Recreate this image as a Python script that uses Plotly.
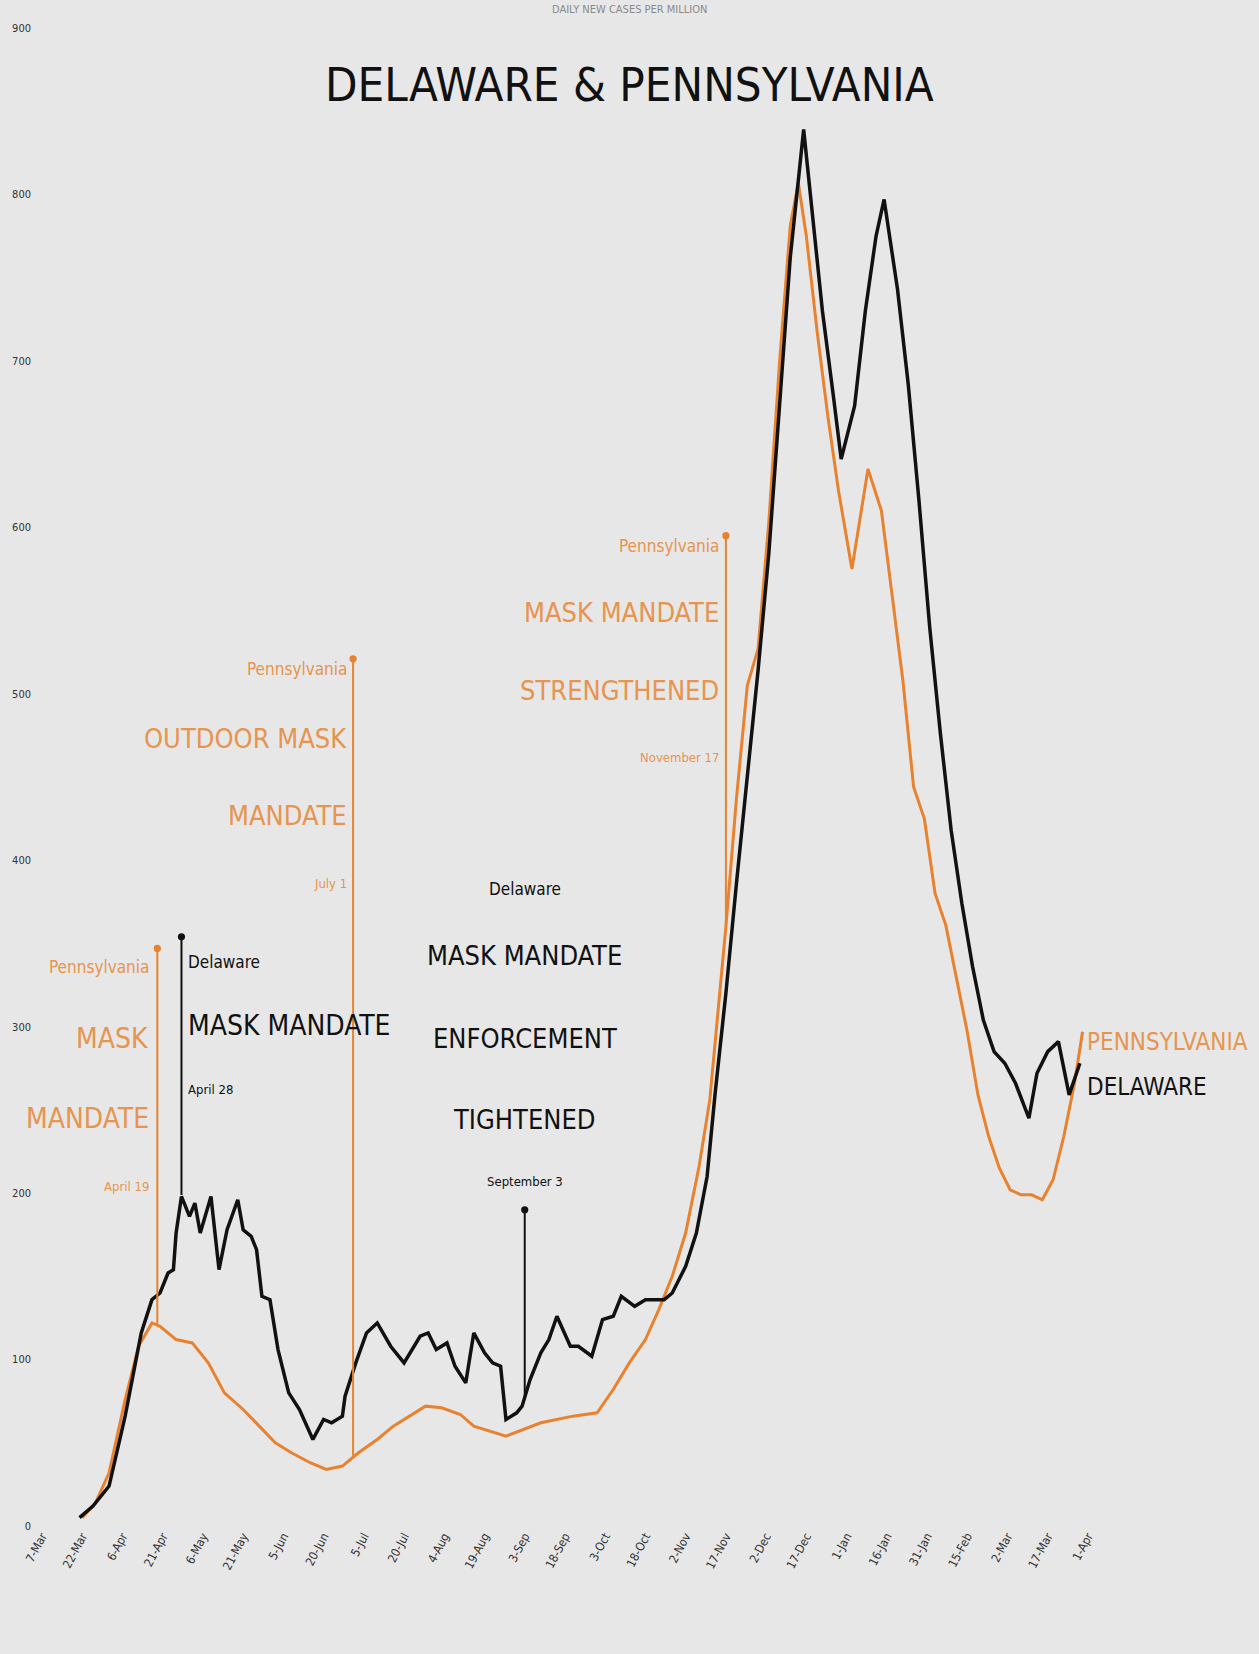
import numpy as np
import pandas as pd
import plotly.graph_objects as go

# daily new cases per million, 7-day average
de_dates = [
    "2020-03-21", "2020-03-26", "2020-04-01", "2020-04-07", "2020-04-13", "2020-04-17",
    "2020-04-20", "2020-04-23", "2020-04-25", "2020-04-26", "2020-04-28", "2020-05-01",
    "2020-05-03", "2020-05-05", "2020-05-09", "2020-05-12", "2020-05-15", "2020-05-19",
    "2020-05-21", "2020-05-24", "2020-05-26", "2020-05-28", "2020-05-31", "2020-06-03",
    "2020-06-07", "2020-06-11", "2020-06-16", "2020-06-20", "2020-06-23", "2020-06-27",
    "2020-06-28", "2020-07-02", "2020-07-06", "2020-07-10", "2020-07-15", "2020-07-20",
    "2020-07-26", "2020-07-29", "2020-08-01", "2020-08-05", "2020-08-08", "2020-08-12",
    "2020-08-15", "2020-08-19", "2020-08-22", "2020-08-25", "2020-08-27", "2020-08-31",
    "2020-09-02", "2020-09-05", "2020-09-09", "2020-09-12", "2020-09-15", "2020-09-20",
    "2020-09-23", "2020-09-28", "2020-10-02", "2020-10-06", "2020-10-09", "2020-10-14",
    "2020-10-18", "2020-10-25", "2020-10-28", "2020-11-02", "2020-11-06", "2020-11-10",
    "2020-11-13", "2020-11-17", "2020-11-21", "2020-11-25", "2020-11-29", "2020-12-03",
    "2020-12-07", "2020-12-11", "2020-12-16", "2020-12-19", "2020-12-23", "2020-12-27",
    "2020-12-30", "2021-01-04", "2021-01-08", "2021-01-12", "2021-01-15", "2021-01-20",
    "2021-01-24", "2021-01-28", "2021-02-01", "2021-02-05", "2021-02-09", "2021-02-13",
    "2021-02-17", "2021-02-21", "2021-02-25", "2021-03-01", "2021-03-05", "2021-03-10",
    "2021-03-13", "2021-03-17", "2021-03-21", "2021-03-25", "2021-03-29",
]
de_values = [
    5, 12, 24, 66, 116, 136,
    140, 152, 154, 176, 198, 186,
    194, 176, 198, 154, 178, 196,
    178, 174, 166, 138, 136, 106,
    80, 70, 52, 64, 62, 66,
    78, 98, 116, 122, 108, 98,
    114, 116, 106, 110, 96, 86,
    116, 104, 98, 96, 64, 68,
    72, 88, 104, 112, 126, 108,
    108, 102, 124, 126, 138, 132,
    136, 136, 140, 156, 176, 210,
    260, 320, 387, 450, 514, 584,
    673, 762, 839, 794, 730, 680,
    641, 673, 730, 775, 797, 743,
    686, 616, 540, 476, 418, 374,
    336, 304, 285, 278, 266, 245,
    272, 285, 291, 259, 278,
]

pa_dates = [
    "2020-03-22", "2020-03-27", "2020-04-01", "2020-04-07", "2020-04-12", "2020-04-17",
    "2020-04-20", "2020-04-26", "2020-05-02", "2020-05-08", "2020-05-14", "2020-05-21",
    "2020-05-27", "2020-06-02", "2020-06-08", "2020-06-15", "2020-06-21", "2020-06-27",
    "2020-07-03", "2020-07-10", "2020-07-16", "2020-07-22", "2020-07-28", "2020-08-03",
    "2020-08-10", "2020-08-15", "2020-08-27", "2020-09-09", "2020-09-21", "2020-09-30",
    "2020-10-06", "2020-10-12", "2020-10-18", "2020-10-23", "2020-10-28", "2020-11-02",
    "2020-11-07", "2020-11-11", "2020-11-17", "2020-11-21", "2020-11-25", "2020-11-29",
    "2020-12-03", "2020-12-07", "2020-12-11", "2020-12-14", "2020-12-17", "2020-12-21",
    "2020-12-25", "2020-12-29", "2021-01-03", "2021-01-09", "2021-01-14", "2021-01-18",
    "2021-01-22", "2021-01-26", "2021-01-30", "2021-02-03", "2021-02-07", "2021-02-11",
    "2021-02-15", "2021-02-19", "2021-02-23", "2021-02-27", "2021-03-03", "2021-03-07",
    "2021-03-11", "2021-03-15", "2021-03-19", "2021-03-23", "2021-03-27", "2021-03-30",
]
pa_values = [
    5, 14, 32, 76, 108, 122,
    120, 112, 110, 98, 80, 70,
    60, 50, 44, 38, 34, 36,
    44, 52, 60, 66, 72, 71,
    67, 60, 54, 62, 66, 68,
    82, 98, 112, 130, 150, 176,
    216, 256, 360, 438, 505, 527,
    603, 699, 781, 807, 775, 718,
    667, 622, 575, 635, 610, 559,
    508, 444, 425, 380, 361, 329,
    297, 259, 234, 215, 202, 199,
    199, 196, 208, 234, 266, 297,
]

y_ticks = [0, 100, 200, 300, 400, 500, 600, 700, 800, 900]
x_ticks = pd.date_range("2020-03-07", "2021-04-01", freq="15D")

ORANGE = "#e8822e"
ORANGE_TXT = "#e6944e"
BLACK = "#111111"
NARROW = "'Liberation Sans Narrow', 'DejaVu Sans Condensed', sans-serif"
BG = "#e7e7e7"

de_x = pd.to_datetime(de_dates)
pa_x = pd.to_datetime(pa_dates)

fig = go.Figure()
fig.add_trace(go.Scatter(x=pa_x, y=pa_values, mode="lines", name="Pennsylvania",
                         line=dict(color=ORANGE, width=3)))
fig.add_trace(go.Scatter(x=de_x, y=de_values, mode="lines", name="Delaware",
                         line=dict(color=BLACK, width=3.5)))


def curve_at(date, xs, ys):
    t = pd.Timestamp(date).value
    return float(np.interp(t, xs.astype("int64"), ys))


# event markers: line from the curve up to the label block, dot on top
events = [
    ("2020-04-19", pa_x, pa_values, ORANGE, 347),
    ("2020-04-28", de_x, de_values, BLACK, 354),
    ("2020-07-01", pa_x, pa_values, ORANGE, 521),
    ("2020-09-03", de_x, de_values, BLACK, 190),
    ("2020-11-17", pa_x, pa_values, ORANGE, 595),
]
for d, xs, ys, col, top in events:
    fig.add_annotation(x=d, y=top, ax=d, ay=curve_at(d, xs, ys), xref="x", yref="y",
                       axref="x", ayref="y", text="", showarrow=True,
                       arrowhead=6, arrowsize=0.9, arrowwidth=2, arrowcolor=col, standoff=0)


def block(date, lines, anchor, color, shift):
    for text, y, size in lines:
        fig.add_annotation(x=date, y=y, xref="x", yref="y", text=text, showarrow=False,
                           xanchor=anchor, yanchor="middle", xshift=shift,
                           font=dict(family=NARROW, size=size, color=color))


block("2020-04-19", [("Pennsylvania", 336, 17), ("MASK", 293, 28),
                     ("MANDATE", 245, 28), ("April 19", 204, 13)], "right", ORANGE_TXT, -6)
block("2020-04-28", [("Delaware", 339, 17), ("MASK MANDATE", 301, 28),
                     ("April 28", 262, 13)], "left", BLACK, 5)
block("2020-07-01", [("Pennsylvania", 515, 17), ("OUTDOOR MASK", 473, 27),
                     ("MANDATE", 427, 27), ("July 1", 386, 13)], "right", ORANGE_TXT, -4)
block("2020-09-03", [("Delaware", 383, 17), ("MASK MANDATE", 343, 27),
                     ("ENFORCEMENT", 293, 27), ("TIGHTENED", 244, 27),
                     ("September 3", 207, 13)], "center", BLACK, 0)
block("2020-11-17", [("Pennsylvania", 589, 17), ("MASK MANDATE", 549, 27),
                     ("STRENGTHENED", 502, 27), ("November 17", 462, 13)], "right", ORANGE_TXT, -5)

# end-of-line labels
fig.add_annotation(x="2021-03-31", y=291, xref="x", yref="y", text="PENNSYLVANIA",
                   showarrow=False, xanchor="left", font=dict(family=NARROW, size=24, color=ORANGE_TXT))
fig.add_annotation(x="2021-03-31", y=264, xref="x", yref="y", text="DELAWARE",
                   showarrow=False, xanchor="left", font=dict(family=NARROW, size=24, color=BLACK))

# titles
fig.add_annotation(x=0.508, y=1.018, xref="paper", yref="paper", text="DAILY NEW CASES PER MILLION",
                   showarrow=False, xanchor="center", yanchor="top",
                   font=dict(family=NARROW, size=11, color="#8a8a8a"))
fig.add_annotation(x=0.508, y=866, xref="paper", yref="y", text="DELAWARE &amp; PENNSYLVANIA",
                   showarrow=False, xanchor="center", yanchor="middle",
                   font=dict(family=NARROW, size=47, color=BLACK))

fig.update_layout(
    width=1259, height=1654,
    margin=dict(l=40, r=59, t=28, b=128),
    paper_bgcolor=BG, plot_bgcolor=BG,
    showlegend=False,
    xaxis=dict(type="date", range=["2020-03-06 06:00", "2021-05-12 19:00"],
               tickvals=x_ticks, tickformat="%-d-%b",
               tickangle=-62, showgrid=False, zeroline=False, showline=False,
               tickfont=dict(family=NARROW, size=12, color="#333333")),
    yaxis=dict(range=[0, 900], tickvals=y_ticks, showgrid=False, zeroline=False,
               showline=False, ticklabelstandoff=8,
               tickfont=dict(family=NARROW, size=11, color="#333333")),
)

fig.write_html("out.html", config={"displayModeBar": False},
               post_script="document.body.style.margin='0';"
                           "document.body.style.background='%s';" % BG)
